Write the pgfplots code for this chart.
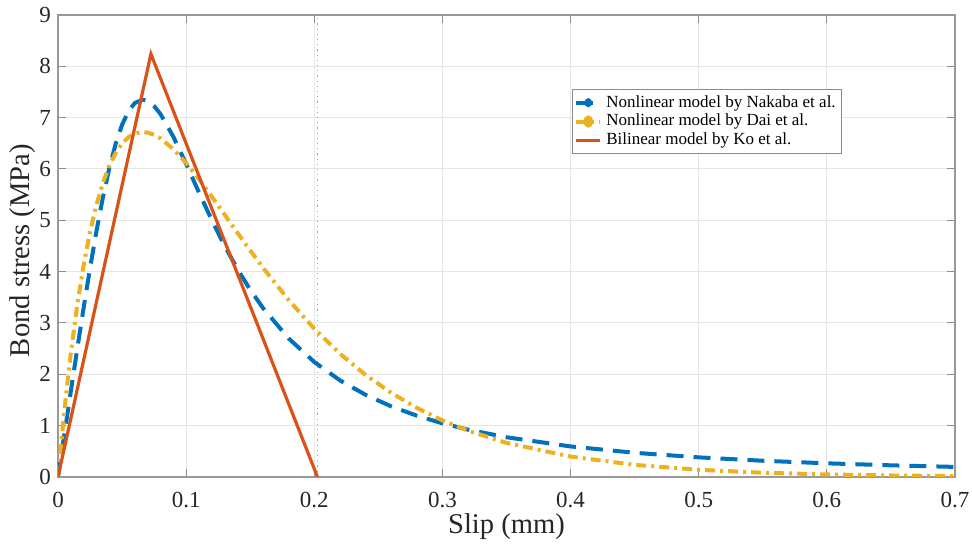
\documentclass[border=0pt]{standalone}
\usepackage{fontspec}
\setmainfont{Liberation Serif}
\usepackage{pgfplots}
\pgfplotsset{compat=1.18}
\definecolor{mblue}{rgb}{0,0.447,0.741}
\definecolor{mred}{rgb}{0.85,0.325,0.098}
\definecolor{myellow}{rgb}{0.929,0.694,0.125}
\begin{document}
\begin{tikzpicture}
\begin{axis}[
  name=ax,
  scale only axis,
  width=448.5pt, height=231pt,
  xmin=0, xmax=0.7, ymin=0, ymax=9,
  xtick={0,0.1,0.2,0.3,0.4,0.5,0.6,0.7},
  ytick={0,1,2,3,4,5,6,7,8,9},
  xticklabels={\textrm{0},\textrm{0.1},\textrm{0.2},\textrm{0.3},\textrm{0.4},\textrm{0.5},\textrm{0.6},\textrm{0.7}},
  yticklabels={\textrm{0},\textrm{1},\textrm{2},\textrm{3},\textrm{4},\textrm{5},\textrm{6},\textrm{7},\textrm{8},\textrm{9}},
  tick align=inside,
  major tick length=4pt,
  tick style={color=black!45, line width=0.5pt},
  axis line style={color=black!40, line width=0.6pt},
  grid=major,
  grid style={color=black!10, line width=0.5pt},
  /pgf/number format/assume math mode=true,
  tick label style={font=\fontsize{11.5}{12}\selectfont, color=black!85},
  xticklabel style={yshift=-4pt},
  label style={font=\fontsize{14.3}{16}\selectfont, color=black!85},
  xlabel={Slip (mm)},
  ylabel={Bond stress (MPa)},
  xlabel style={at={(axis description cs:0.5,-0.108)}, anchor=center},
  ylabel style={at={(axis description cs:-0.039,0.49)}, anchor=center},
  legend style={at={(0.573,0.840)}, anchor=north west, draw=black!45, fill=white,
    font=\fontsize{8.5}{9.5}\selectfont, inner sep=1pt, row sep=-2pt,
    /tikz/every even column/.append style={column sep=2pt}},
  legend image post style={xscale=0.7},
  legend cell align=left,
]
\draw[black!35, line width=0.6pt, dotted] (axis cs:0.2025,0) -- (axis cs:0.2025,9);
\addplot[mblue, line width=2pt, dash pattern=on 8.5pt off 5pt, mark=*, mark size=1.2pt, mark options={solid}, mark phase=200] coordinates {
(0,0) (0.005,0.835) (0.01,1.668) (0.015,2.491) (0.02,3.295) (0.025,4.066) (0.03,4.787)
(0.035,5.441) (0.04,6.013) (0.045,6.489) (0.05,6.861) (0.055,7.126) (0.06,7.286)
(0.066,7.35) (0.07,7.324) (0.075,7.226) (0.08,7.069) (0.09,6.629) (0.1,6.098)
(0.11,5.543) (0.12,5.005) (0.13,4.504) (0.14,4.051) (0.15,3.647) (0.16,3.290)
(0.18,2.699) (0.2,2.240) (0.22,1.883) (0.24,1.601) (0.26,1.376) (0.28,1.194)
(0.3,1.045) (0.32,0.922) (0.35,0.774) (0.4,0.595) (0.45,0.471) (0.5,0.382)
(0.55,0.316) (0.6,0.266) (0.65,0.227) (0.7,0.196)
};
\addlegendentry{Nonlinear model by Nakaba et al.}
\addplot[myellow, line width=2pt, dash pattern=on 5pt off 2.5pt on 1.5pt off 2.5pt, mark=*, mark size=2pt, mark options={solid}, mark phase=200] coordinates {
(0,0) (0.005,1.305) (0.01,2.412) (0.015,3.346) (0.02,4.127) (0.025,4.773) (0.03,5.301)
(0.035,5.724) (0.04,6.057) (0.045,6.311) (0.05,6.495) (0.055,6.619) (0.06,6.691)
(0.066,6.722) (0.07,6.709) (0.075,6.666) (0.08,6.595) (0.09,6.387) (0.1,6.115)
(0.11,5.801) (0.12,5.462) (0.13,5.111) (0.14,4.759) (0.15,4.413) (0.16,4.076)
(0.18,3.447) (0.2,2.888) (0.22,2.403) (0.24,1.989) (0.26,1.639) (0.28,1.346)
(0.3,1.102) (0.32,0.901) (0.35,0.664) (0.4,0.397) (0.45,0.236) (0.5,0.140)
(0.55,0.083) (0.6,0.049) (0.65,0.029) (0.7,0.017)
};
\addlegendentry{Nonlinear model by Dai et al.}
\addplot[mred, line width=1.6pt, mark=none] coordinates {
(0,0) (0.0725,8.24) (0.2025,0)
};
\addlegendentry{Bilinear model by Ko et al.}
\end{axis}
\pgfresetboundingbox
\path ([xshift=-29pt,yshift=-35.5pt]ax.south west) rectangle ([xshift=8.5pt,yshift=7.5pt]ax.north east);
\end{tikzpicture}
\end{document}
